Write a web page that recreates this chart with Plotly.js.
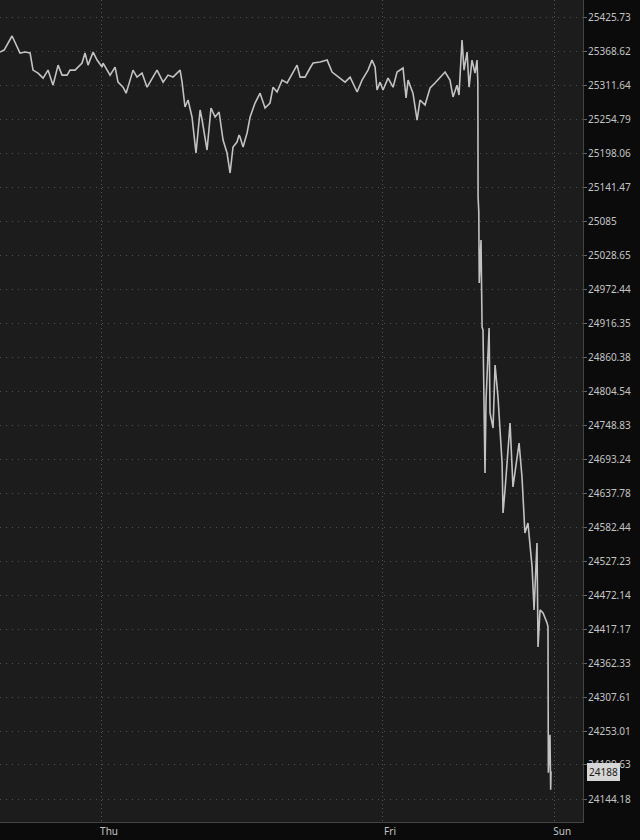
<!DOCTYPE html>
<html>
<head>
<meta charset="utf-8">
<script src="https://cdn.plot.ly/plotly-3.0.1.min.js"></script>
<style>
html,body{margin:0;padding:0;background:#0b0b0b;}
#chart{width:640px;height:840px;}
</style>
</head>
<body>
<div id="chart"></div>
<script>
// Time in hours relative to Thursday 00:00 (session clock)
const hours = [
 -8.63,-8.28,-7.60,-7.35,-6.92,-6.49,-6.06,-5.81,-5.38,-4.95,-4.53,-4.10,-3.67,-3.33,-2.90,-2.65,-2.22,-1.62,-1.37,-1.11,
 -0.68,-0.34,0.09,0.17,0.77,1.20,1.45,1.88,2.14,2.48,2.73,3.07,3.50,3.93,4.36,4.78,5.30,5.72,6.15,6.75,
 6.92,7.17,7.43,7.77,8.11,8.46,8.63,9.05,9.39,9.74,10.08,10.42,10.76,11.02,11.27,11.61,11.79,11.87,12.13,12.47,
 12.73,13.15,13.58,14.01,14.43,14.69,15.03,15.46,15.89,16.40,16.74,17.00,17.42,17.85,18.11,18.71,19.31,19.73,20.24,20.84,
 21.27,21.87,22.29,22.80,23.14,23.40,23.57,23.83,24.08,24.51,24.94,25.28,25.79,26.05,26.22,26.64,26.99,27.24,27.67,28.10,
 28.52,28.95,29.38,29.80,30.06,30.40,30.57,30.83,31.00,31.26,31.43,31.68,31.94,32.11,32.18,32.20,32.26,32.30,32.45,32.54,
 32.62,32.79,32.88,33.14,33.22,33.48,33.65,33.90,34.25,34.33,34.50,34.93,35.18,35.70,35.95,36.20,36.46,36.81,36.98,37.23,
 37.32,37.49,37.75,38.09,38.17,38.20,38.34,38.40,38.43
];
const prices = [
 25366.9,25370.2,25393.8,25383.7,25365.2,25366.9,25365.2,25336.6,25331.6,25323.2,25336.6,25311.4,25345.0,25328.2,25328.2,25336.6,25336.6,25348.4,25365.2,25345.0,
 25366.9,25353.4,25341.7,25348.4,25328.2,25341.7,25316.4,25308.0,25297.9,25319.8,25336.6,25324.9,25331.6,25308.0,25323.2,25336.6,25316.4,25328.2,25324.9,25336.6,
 25316.4,25274.8,25286.5,25258.1,25198.0,25269.8,25253.1,25203.0,25273.2,25258.1,25266.5,25219.7,25198.0,25164.7,25208.1,25216.4,25228.1,25224.7,25208.1,25231.4,
 25258.1,25281.5,25297.9,25273.2,25281.5,25308.0,25299.9,25319.8,25315.0,25333.4,25345.0,25324.9,25324.9,25340.1,25348.4,25350.2,25353.4,25333.4,25324.9,25316.4,
 25324.9,25299.9,25319.8,25336.6,25353.4,25341.7,25303.3,25316.4,25303.3,25323.2,25308.0,25333.4,25340.1,25289.9,25319.8,25297.9,25253.1,25286.5,25278.2,25306.6,
 25315.0,25324.9,25333.4,25319.8,25291.6,25311.4,25294.9,25387.1,25336.6,25366.9,25308.0,25353.4,25331.6,25353.4,25315.0,25124.8,25099.9,24982.3,25053.5,24909.7,
 24904.8,24670.4,24789.8,24908.1,24768.5,24743.9,24847.2,24794.7,24686.8,24605.3,24642.7,24752.1,24647.6,24719.4,24663.9,24572.8,24589.0,24517.6,24448.0,24556.5,
 24388.3,24448.0,24443.2,24427.0,24420.6,24186.1,24246.9,24159.0,24188.0
];
const priceTicks = [25425.73,25368.62,25311.64,25254.79,25198.06,25141.47,25085,25028.65,24972.44,24916.35,24860.38,24804.54,
 24748.83,24693.24,24637.78,24582.44,24527.23,24472.14,24417.17,24362.33,24307.61,24253.01,24199.63,24144.18];
const priceTickText = ["25425.73","25368.62","25311.64","25254.79","25198.06","25141.47","25085","25028.65","24972.44","24916.35","24860.38","24804.54",
 "24748.83","24693.24","24637.78","24582.44","24527.23","24472.14","24417.17","24362.33","24307.61","24253.01","24199.63","24144.18"];
const dayTicks = [0, 24, 38.7];
const dayLabels = ["Thu", "Fri", "Sun"];
const lastPrice = prices[prices.length - 1];

// layout geometry
const H = 840, B = 18, plotH = H - B;
const topPx = 17, botPx = 799;
const hi = Math.log10(priceTicks[0]);
const lo = Math.log10(priceTicks[priceTicks.length - 1]);
const per = (hi - lo) / (botPx - topPx);
const yRange = [lo - (plotH - botPx) * per, hi + topPx * per];

const FONT = "Noto Sans, Open Sans, sans-serif";

const trace = {
  x: hours, y: prices, type: "scatter", mode: "lines",
  line: {color: "#c2c2c2", width: 1.6},
  hoverinfo: "skip"
};

const layout = {
  width: 640, height: 840,
  margin: {l: 0, r: 57, t: 0, b: B, pad: 0},
  paper_bgcolor: "#0b0b0b",
  plot_bgcolor: "#1c1c1c",
  showlegend: false,
  font: {family: FONT, size: 10, color: "#c4c4c4"},
  xaxis: {
    type: "linear",
    range: [-8.63, 41.16],
    tickvals: dayTicks, ticktext: dayLabels,
    showgrid: true, gridcolor: "#555555", gridwidth: 1, griddash: "1px,3px",
    zeroline: false,
    showline: true, linecolor: "#454545", linewidth: 1,
    ticks: "",
    tickfont: {family: FONT, size: 10, color: "#c4c4c4"},
    ticklabelshift: 8,
    ticklabelstandoff: 0,
    fixedrange: true
  },
  yaxis: {
    type: "log",
    side: "right",
    range: yRange,
    tickvals: priceTicks, ticktext: priceTickText,
    showgrid: true, gridcolor: "#505050", gridwidth: 1, griddash: "1px,5px",
    zeroline: false,
    showline: true, linecolor: "#454545", linewidth: 1,
    ticks: "outside", ticklen: 3, tickcolor: "#666666", tickwidth: 1,
    tickfont: {family: FONT, size: 10, color: "#c4c4c4"},
    ticklabelstandoff: -1,
    fixedrange: true
  },
  annotations: [{
    xref: "paper", x: 1, xanchor: "left", xshift: 4,
    yref: "y", y: Math.log10(lastPrice), yanchor: "middle",
    text: String(Math.round(lastPrice)),
    showarrow: false,
    bgcolor: "#d6d6d6", bordercolor: "#d6d6d6", borderwidth: 1, borderpad: 1,
    font: {family: FONT, size: 10, color: "#1a1a1a"}
  }]
};

Plotly.newPlot("chart", [trace], layout, {displayModeBar: false, staticPlot: true});
</script>
</body>
</html>
